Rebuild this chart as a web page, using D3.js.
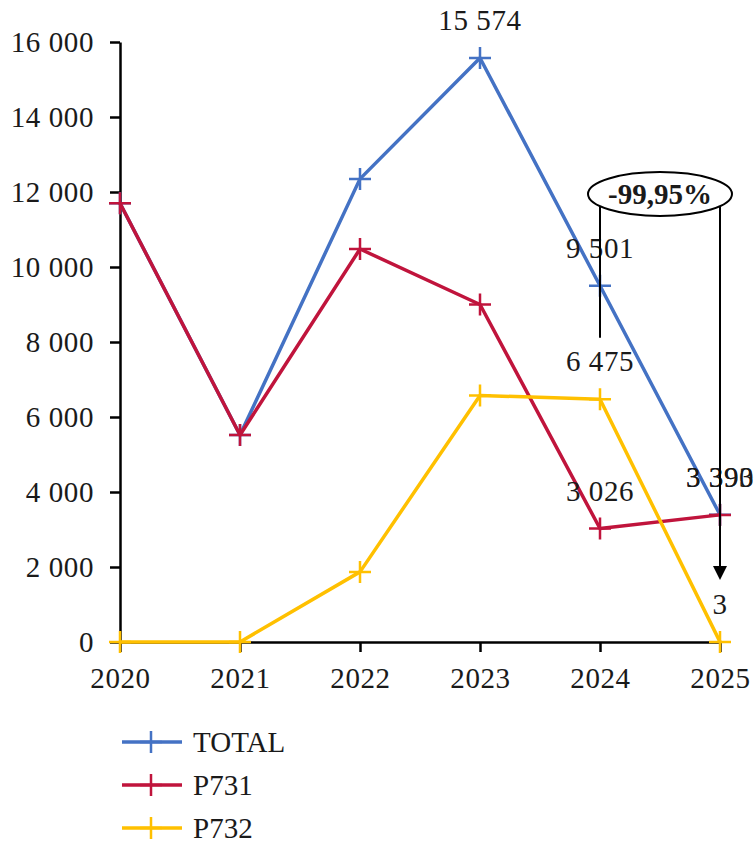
<!DOCTYPE html>
<html>
<head>
<meta charset="utf-8">
<script src="https://cdn.jsdelivr.net/npm/d3@7"></script>
<style>
  body { margin: 0; background: #fff; }
  svg { display: block; font-family: "Liberation Serif", "DejaVu Serif", serif; }
</style>
</head>
<body>
<script>
const WIDTH = 754;
const HEIGHT = 843;

const years = [2020, 2021, 2022, 2023, 2024, 2025];
const total = [11700, 5520, 12350, 15574, 9501, 3393];
const p731 = [11700, 5520, 10480, 9000, 3026, 3390];
const p732 = [0, 0, 1870, 6574, 6475, 3];
const yTicks = [0, 2000, 4000, 6000, 8000, 10000, 12000, 14000, 16000];
const seriesNames = ["TOTAL", "P731", "P732"];
const seriesColors = ["#4472C4", "#C0143C", "#FFC000"];
const changeLabel = "-99,95%";

// which points get a value label
const labelled = [
    [false, false, false, true, true, true],
    [false, false, false, false, true, true],
    [false, false, false, false, true, true]
];

const fr = d3.formatLocale({decimal: ",", thousands: " ", grouping: [3], currency: ["", ""]});
const fmt = fr.format(",");

var svg = d3.select("body").append("svg")
            .attr("width", WIDTH)
            .attr("height", HEIGHT);

var x = d3.scaleLinear().domain([2020, 2025]).range([120, 720]);
var y = d3.scaleLinear().domain([0, 16000]).range([642, 42]);

// Axes
var yAxis = svg.append("g")
               .attr("transform", "translate(" + x(2020) + ",0)")
               .call(d3.axisLeft(y).tickValues(yTicks).tickFormat(fmt).tickSize(10).tickSizeOuter(0).tickPadding(16));

var xAxis = svg.append("g")
               .attr("transform", "translate(0," + y(0) + ")")
               .call(d3.axisBottom(x).tickValues(years).tickFormat(d3.format("d")).tickSize(10).tickSizeOuter(0).tickPadding(15));

svg.selectAll(".domain, .tick line").attr("stroke", "#000").attr("stroke-width", 2.5);
svg.selectAll(".tick text")
   .attr("font-family", "Liberation Serif, serif")
   .attr("font-size", 29)
   .attr("letter-spacing", 0.6)
   .attr("fill", "#1a1a1a");

// Lines and markers
var allSeries = [total, p731, p732];
var line = d3.line().x(function (d, i) { return x(years[i]); }).y(function (d) { return y(d); });

function plus(g, cx, cy, color) {
    g.append("path")
     .attr("d", "M" + (cx - 11) + "," + cy + "H" + (cx + 11) + "M" + cx + "," + (cy - 11) + "V" + (cy + 11))
     .attr("stroke", color)
     .attr("stroke-width", 2.5)
     .attr("fill", "none");
}

allSeries.forEach(function (vals, s) {
    var g = svg.append("g");
    g.append("path")
     .datum(vals)
     .attr("d", line)
     .attr("fill", "none")
     .attr("stroke", seriesColors[s])
     .attr("stroke-width", 3.5)
     .attr("stroke-linejoin", "round");
    vals.forEach(function (v, i) { plus(g, x(years[i]), y(v), seriesColors[s]); });
});

// Value labels
allSeries.forEach(function (vals, s) {
    vals.forEach(function (v, i) {
        if (!labelled[s][i]) return;
        svg.append("text")
           .attr("x", x(years[i]))
           .attr("y", y(v) - 28)
           .attr("text-anchor", "middle")
           .attr("font-size", 29)
           .attr("letter-spacing", 0.6)
           .attr("fill", "#1a1a1a")
           .text(fmt(v));
    });
});

// Change annotation
var ex = 660, ey = 194;
svg.append("path")
   .attr("d", "M" + x(2024) + "," + (ey + 12) + "V" + (y(total[4]) + 52))
   .attr("stroke", "#000").attr("stroke-width", 2);
svg.append("path")
   .attr("d", "M" + x(2025) + "," + (ey + 12) + "V" + (y(p732[5]) - 76))
   .attr("stroke", "#000").attr("stroke-width", 2);
var tipY = y(p732[5]) - 62;
svg.append("path")
   .attr("d", "M" + (x(2025) - 7) + "," + (tipY - 14) + "L" + (x(2025) + 7) + "," + (tipY - 14) + "L" + x(2025) + "," + tipY + "Z")
   .attr("fill", "#000");
svg.append("ellipse")
   .attr("cx", ex).attr("cy", ey)
   .attr("rx", 72).attr("ry", 22)
   .attr("fill", "#fff")
   .attr("stroke", "#000")
   .attr("stroke-width", 2);
svg.append("text")
   .attr("x", ex).attr("y", ey + 10)
   .attr("text-anchor", "middle")
   .attr("font-size", 29)
   .attr("font-weight", "bold")
   .attr("fill", "#1a1a1a")
   .text(changeLabel);

// Legend
seriesNames.forEach(function (name, s) {
    var ly = 742 + s * 43;
    var g = svg.append("g");
    g.append("line")
     .attr("x1", 122).attr("x2", 182)
     .attr("y1", ly).attr("y2", ly)
     .attr("stroke", seriesColors[s]).attr("stroke-width", 3.5);
    plus(g, 151, ly, seriesColors[s]);
    g.append("text")
     .attr("x", 193).attr("y", ly + 10)
     .attr("font-size", 29)
     .attr("fill", "#1a1a1a")
     .text(name);
});
</script>
</body>
</html>
